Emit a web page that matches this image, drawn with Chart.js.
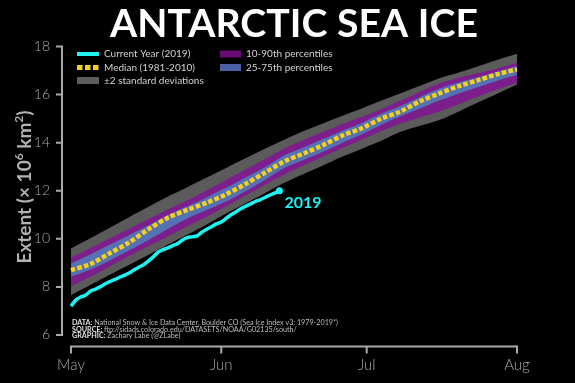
<!DOCTYPE html>
<html><head><meta charset="utf-8">
<script src="https://cdn.jsdelivr.net/npm/chart.js@4.4.1/dist/chart.umd.min.js"></script>
<style>html,body{margin:0;padding:0;background:#000;overflow:hidden}#wrap{width:575px;height:383px}</style>
</head><body><div id="wrap"><canvas id="c" width="575" height="383"></canvas></div>
<script>
// ---- data (day index: 0 = May 1, 31 = Jun 1, 61 = Jul 1, 92 = Aug 1) ----
const days = [0,4,8,12,16,20,24,28,32,36,40,44,48,52,56,60,64,68,72,76,80,84,88,92];
const median   = [8.70,8.95,9.40,9.85,10.40,10.88,11.20,11.50,11.85,12.28,12.75,13.22,13.55,13.90,14.30,14.60,15.00,15.30,15.72,16.05,16.35,16.60,16.85,17.05];
const sdTop    = [9.60,10.02,10.46,10.90,11.33,11.76,12.15,12.55,12.95,13.35,13.75,14.12,14.48,14.80,15.12,15.42,15.75,16.06,16.37,16.68,16.92,17.18,17.45,17.70];
const sdBottom = [7.66,8.08,8.50,8.92,9.34,9.76,10.18,10.60,11.05,11.48,11.90,12.33,12.70,13.05,13.42,13.75,14.08,14.45,14.70,14.94,15.30,15.68,16.05,16.42];
const p90      = [9.22,9.62,10.02,10.42,10.82,11.22,11.60,12.02,12.45,12.88,13.32,13.76,14.12,14.45,14.78,15.08,15.40,15.75,16.12,16.47,16.70,16.90,17.10,17.32];
const p10      = [8.02,8.42,8.85,9.28,9.70,10.10,10.52,10.92,11.35,11.80,12.25,12.68,13.05,13.42,13.78,14.12,14.48,14.80,15.05,15.30,15.60,15.92,16.22,16.48];
const p75      = [8.98,9.35,9.75,10.15,10.55,10.98,11.35,11.72,12.12,12.55,12.98,13.48,13.80,14.15,14.50,14.82,15.20,15.52,15.90,16.25,16.50,16.72,16.95,17.18];
const p25      = [8.42,8.72,9.10,9.52,9.95,10.42,10.85,11.20,11.55,11.98,12.45,12.95,13.28,13.62,14.00,14.35,14.75,15.10,15.42,15.75,16.05,16.32,16.58,16.82];
const days2019 = [0,1,2,3,4,5,6,7,8,9,10,11,12,13,14,15,16,17,18,19,20,21,22,23,24,25,26,27,28,29,30,31,32,33,34,35,36,37,38,39,40,41,42,43];
const year2019 = [7.20,7.45,7.58,7.65,7.82,7.90,8.00,8.12,8.22,8.30,8.40,8.48,8.58,8.70,8.82,8.92,9.08,9.25,9.45,9.55,9.62,9.72,9.80,9.95,10.05,10.08,10.12,10.28,10.40,10.50,10.62,10.70,10.85,11.00,11.12,11.25,11.35,11.45,11.55,11.62,11.72,11.82,11.90,12.00];
const monthTicks  = [0,31,61,92];
const monthLabels = ['May','Jun','Jul','Aug'];
const yTicks = [6,8,10,12,14,16,18];

const pts = (xs, ys) => ys.map((v,i)=>({x:xs[i], y:v}));
const AXIS = '#a9a9a9';
const CYAN = '#1ff0f0', GOLD = '#f4d21c', GREY = '#5b5b5b', PURPLE = '#7c1f8c', BLUE = '#5572b4';

const band = (data, color, fillTarget) => ({
  data, borderWidth:0, pointRadius:0, backgroundColor:color, borderColor:'transparent',
  fill: fillTarget === undefined ? false : {target: fillTarget}, tension:0.3
});

const decor = {
  id:'decor',
  beforeDraw(chart){
    const c = chart.ctx; c.save(); c.fillStyle='#000'; c.fillRect(0,0,chart.width,chart.height); c.restore();
  },
  afterDraw(chart){
    const c = chart.ctx, xs = chart.scales.x, ys = chart.scales.y, ca = chart.chartArea;
    c.save();
    // spines
    c.strokeStyle = AXIS; c.lineWidth = 2; c.lineCap='butt';
    const sx = ca.left;
    c.beginPath();
    c.moveTo(sx, ys.getPixelForValue(yTicks[0])); c.lineTo(sx, ys.getPixelForValue(yTicks[yTicks.length-1]));
    yTicks.forEach(v=>{const y=ys.getPixelForValue(v); c.moveTo(sx+1, y); c.lineTo(sx-6, y);});
    const sy = ca.bottom;
    c.moveTo(xs.getPixelForValue(monthTicks[0]), sy); c.lineTo(xs.getPixelForValue(monthTicks[monthTicks.length-1]), sy);
    monthTicks.forEach(v=>{const x=xs.getPixelForValue(v); c.moveTo(x, sy-1); c.lineTo(x, sy+7);});
    c.stroke();

    // title (stretched horizontally to the reference's wide geometric face)
    c.save();
    c.fillStyle='#fff'; c.textAlign='center'; c.textBaseline='alphabetic';
    c.font='700 38px Lato';
    const tw = c.measureText('ANTARCTIC SEA ICE').width;
    c.translate(294, 37); c.scale(368/tw, 1);
    c.fillText('ANTARCTIC SEA ICE', 0, 0);
    c.restore();

    // y title
    c.save();
    c.translate(31, 187); c.rotate(-Math.PI/2);
    c.fillStyle='#b3b3b3'; c.textAlign='left';
    const segs=[['Extent (\u00d7 10',0],['6',1],[' km',0],['2',1],[')',0]];
    const big='700 19px Lato', small='700 12px Lato';
    let tot=0; segs.forEach(s=>{c.font=s[1]?small:big; tot+=c.measureText(s[0]).width;});
    let px=-tot/2;
    segs.forEach(s=>{c.font=s[1]?small:big; c.fillText(s[0], px, s[1]?-8:0); px+=c.measureText(s[0]).width;});
    c.restore();

    // legend
    c.textAlign='left'; c.textBaseline='middle'; c.font='10px Lato'; c.fillStyle='#d2d2d2';
    const rows=[54,67.5,80.5];
    c.fillStyle=CYAN; c.fillRect(77, rows[0]-2, 22, 4);
    c.fillStyle=GOLD; [77,85,93].forEach(x=>c.fillRect(x, rows[1]-2.5, 5.5, 5));
    c.fillStyle='#5d5d5d'; c.fillRect(77, rows[2]-3.5, 22, 7);
    c.fillStyle='#680c74'; c.fillRect(220, rows[0]-3.5, 21, 7);
    c.fillStyle='#4b62a6'; c.fillRect(220, rows[1]-3.5, 21, 7);
    c.fillStyle='#d2d2d2';
    c.fillText('Current Year (2019)', 104, rows[0]);
    c.fillText('Median (1981-2010)', 104, rows[1]);
    c.fillText('\u00b12 standard deviations', 104, rows[2]);
    c.fillText('10-90th percentiles', 246, rows[0]);
    c.fillText('25-75th percentiles', 246, rows[1]);

    // 2019 label
    const lx = xs.getPixelForValue(days2019[days2019.length-1]);
    const ly = ys.getPixelForValue(year2019[year2019.length-1]);
    c.fillStyle=CYAN; c.font='700 16px Lato'; c.textBaseline='middle';
    c.fillText('2019', lx+5, ly+12);

    // credits
    c.textBaseline='alphabetic';
    const lines=[['DATA: ','National Snow & Ice Data Center, Boulder CO (Sea Ice Index v3: 1979-2019*)'],
                 ['SOURCE: ','ftp://sidads.colorado.edu/DATASETS/NOAA/G02135/south/'],
                 ['GRAPHIC: ','Zachary Labe (@ZLabe)']];
    const base=[325,331.5,338];
    lines.forEach((l,i)=>{
      c.font='700 7.2px Lato'; c.fillStyle='#e0e0e0'; c.fillText(l[0], 72, base[i]);
      const w=c.measureText(l[0]).width;
      c.font='7.2px Lato'; c.fillStyle='#bdbdbd'; c.fillText(l[1], 72+w, base[i]);
    });
    c.restore();
  }
};

new Chart(document.getElementById('c'), {
  type:'line',
  data:{datasets:[
    {data:pts(days2019, year2019), borderColor:CYAN, borderWidth:3.5, backgroundColor:CYAN, fill:false,
     pointRadius:ctx=>ctx.dataIndex===days2019.length-1?3.5:0, pointBorderWidth:0, tension:0.2},
    {data:pts(days, median), borderColor:GOLD, borderWidth:4.5, borderDash:[4.5,2.2], pointRadius:0, fill:false, tension:0.3},
    band(pts(days, p75), BLUE),
    band(pts(days, p25), BLUE, 2),
    band(pts(days, p90), PURPLE),
    band(pts(days, p10), PURPLE, 4),
    band(pts(days, sdTop), GREY),
    band(pts(days, sdBottom), GREY, 6)
  ]},
  options:{
    responsive:false, animation:false, devicePixelRatio:1,
    layout:{padding:{top:46.5, right:58, left:0, bottom:0}},
    plugins:{legend:{display:false}, tooltip:{enabled:false}},
    scales:{
      x:{type:'linear', min:-1.85, max:92,
        afterBuildTicks:s=>{s.ticks=monthTicks.map(v=>({value:v}));},
        afterFit:s=>{s.height=36.5;},
        grid:{display:false, drawTicks:false}, border:{display:false},
        ticks:{autoSkip:false, maxRotation:0, padding:10, color:'#a9a9a9', font:{family:'Lato', size:15, weight:300},
          callback:v=>monthLabels[monthTicks.indexOf(v)]}},
      y:{min:5.52, max:18,
        afterBuildTicks:s=>{s.ticks=yTicks.map(v=>({value:v}));},
        afterFit:s=>{s.width=62;},
        grid:{display:false, drawTicks:false}, border:{display:false},
        ticks:{padding:12, color:'#a9a9a9', font:{family:'Lato', size:14, weight:300}, callback:v=>String(v)}}
    }
  },
  plugins:[decor]
});
</script></body></html>
